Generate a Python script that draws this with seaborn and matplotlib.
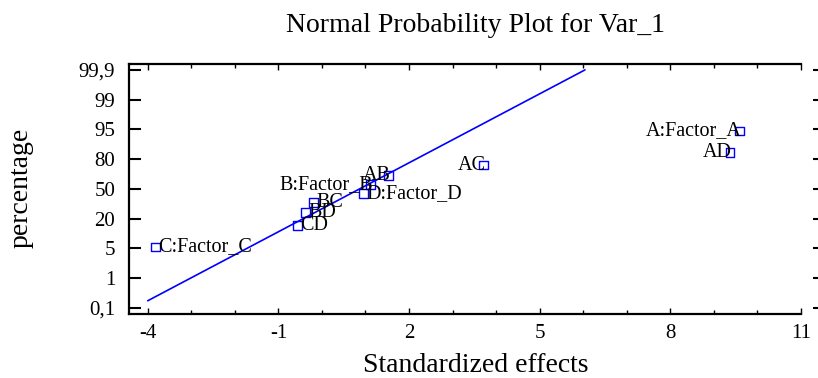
import matplotlib
matplotlib.use("Agg")
import matplotlib.pyplot as plt
from matplotlib.ticker import FixedLocator, MultipleLocator
import seaborn as sns
import pandas as pd
from statistics import NormalDist

# ---------------- data ----------------
effect_labels = ["C:Factor_C", "CD", "BD", "BC", "D:Factor_D",
                 "B:Factor_B", "AB", "AC", "AD", "A:Factor_A"]
effect_values = [-3.82, -0.56, -0.38, -0.19, 0.95, 1.12, 1.53, 3.71, 9.37, 9.59]
cum_percent = [5, 15, 25, 35, 45, 55, 65, 75, 85, 95]
label_side = ["right", "right", "right", "right", "right",
              "left", "left", "left", "left", "left"]

line_x = [-4.0, 6.04]
line_score = [-3.17, 3.37]

x_ticks = [-4, -1, 2, 5, 8, 11]
x_tick_labels = ["-4", "-1", "2", "5", "8", "11"]
y_tick_labels = ["0,1", "1", "5", "20", "50", "80", "95", "99", "99,9"]

title = "Normal Probability Plot for Var_1"
x_title = "Standardized effects"
y_title = "percentage"

# ---------------- style ----------------
sns.set_theme(style="white")
plt.rcParams["font.family"] = ["Liberation Serif", "DejaVu Serif"]
plt.rcParams["axes.unicode_minus"] = False

BLUE = "#0000FF"

fig = plt.figure(figsize=(8.18, 3.78), dpi=100)
ax = fig.add_axes([129 / 818, 1 - 314 / 378, 672 / 818, 250 / 378])

nd = NormalDist()
df = pd.DataFrame({
    "effect": effect_values,
    "score": [nd.inv_cdf(p / 100) for p in cum_percent],
    "label": effect_labels,
    "side": label_side,
})
line_df = pd.DataFrame({"x": line_x, "y": line_score})

sns.lineplot(data=line_df, x="x", y="y", color=BLUE, linewidth=1.2, ax=ax)
sns.scatterplot(data=df, x="effect", y="score", marker="s", s=38,
                facecolor="none", edgecolor=BLUE, linewidth=1.0, ax=ax, zorder=3)

for _, r in df.iterrows():
    if r["side"] == "right":
        ax.annotate(r["label"], (r["effect"], r["score"]), xytext=(2, 0),
                    textcoords="offset points", ha="left", va="center",
                    fontsize=14.5, color="black")
    else:
        ax.annotate(r["label"], (r["effect"], r["score"]), xytext=(1.5, 0),
                    textcoords="offset points", ha="right", va="center",
                    fontsize=14.5, color="black")

ax.set_xlim(-4.43, 11.0)
ax.set_ylim(-3.545, 3.537)

# axes / spines
for s in ["left", "bottom", "top"]:
    ax.spines[s].set_color("black")
    ax.spines[s].set_linewidth(1.6)
ax.spines["right"].set_position(("outward", 17))
ax.spines["right"].set_visible(False)

ax.xaxis.set_major_locator(FixedLocator(x_ticks))
ax.set_xticklabels(x_tick_labels)
ax.xaxis.set_minor_locator(MultipleLocator(1))
z80 = nd.inv_cdf(0.8)
ax.set_yticks([k * z80 for k in range(-4, 5)])
ax.set_yticklabels(y_tick_labels)

ax.tick_params(axis="x", which="major", direction="in", length=4, width=1,
               top=True, bottom=True, labelsize=15, pad=7, colors="black")
ax.tick_params(axis="x", which="minor", direction="in", length=3, width=1,
               top=True, bottom=True, colors="black")
ax.tick_params(axis="y", which="major", direction="in", length=8.6, width=1.5,
               left=True, right=True, labelsize=15, pad=10, colors="black")

ax.set_xlabel(x_title, fontsize=20, color="black", va="baseline")
ax.xaxis.set_label_coords(0.516, (314 - 372) / 250)
ax.set_ylabel(y_title, fontsize=20, color="black", va="baseline")
ax.yaxis.set_label_coords((28 - 129) / 672, 0.506)

fig.text(476 / 818, 1 - 32 / 378, title, ha="center", va="baseline",
         fontsize=20, color="black")

fig.savefig("out.png", dpi=100)
